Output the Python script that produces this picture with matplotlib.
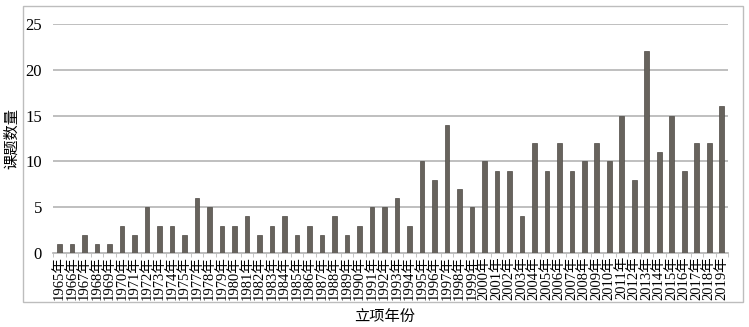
import numpy as np
import matplotlib.pyplot as plt
from matplotlib.patches import Rectangle

# Data (1976 is absent in the original)
years = list(range(1965, 1976)) + list(range(1977, 2020))
counts = [1, 1, 2, 1, 1, 3, 2, 5, 3, 3, 2,
          6, 5, 3, 3, 4, 2, 3, 4, 2, 3, 2, 4, 2, 3, 5, 5, 6, 3,
          10, 8, 14, 7, 5, 10, 9, 9, 4, 12, 9, 12, 9, 10, 12, 10,
          15, 8, 22, 11, 15, 9, 12, 12, 16]
labels = [f"{y}年" for y in years]

fonts = ['Liberation Serif', 'Noto Sans CJK SC', 'DejaVu Sans']
plt.rcParams['font.family'] = fonts

fig = plt.figure(figsize=(7.49, 3.27), dpi=100)
# outer chart frame
fig.patches.append(Rectangle((0.031, 0.077), 0.961, 0.905, transform=fig.transFigure,
                             fill=False, edgecolor='#bdbdbd', linewidth=1.0))

ax = fig.add_axes([0.071, 0.226, 0.901, 0.701])
x = np.arange(len(years))
ax.bar(x, counts, width=0.37, color='#67635d', edgecolor='#4e4a45', linewidth=0.5, zorder=3)

ax.set_ylim(0, 25)
ax.set_xlim(-0.5, len(years) - 0.5)
ax.set_yticks(range(0, 26, 5))
ax.yaxis.grid(True, color='#bababa', linewidth=1.3, zorder=0)
for s in ['top', 'right', 'left']:
    ax.spines[s].set_visible(False)
ax.spines['bottom'].set_color('#bababa')
ax.spines['bottom'].set_linewidth(1.3)
ax.tick_params(axis='y', length=0, labelsize=12, pad=8)

ax.set_xticks(x)
ax.set_xticklabels(labels, rotation=90, fontsize=10.5)
ax.tick_params(axis='x', length=0, pad=2)
ax.set_xticks(np.arange(-0.5, len(years), 1), minor=True)
ax.tick_params(axis='x', which='minor', length=3, color='#bababa')

fig.text(0.016, 0.576, '课题数量', rotation=90, ha='center', va='center', fontsize=11)
fig.text(0.514, 0.03, '立项年份', ha='center', va='center', fontsize=11)

fig.savefig('out.png', dpi=100)
